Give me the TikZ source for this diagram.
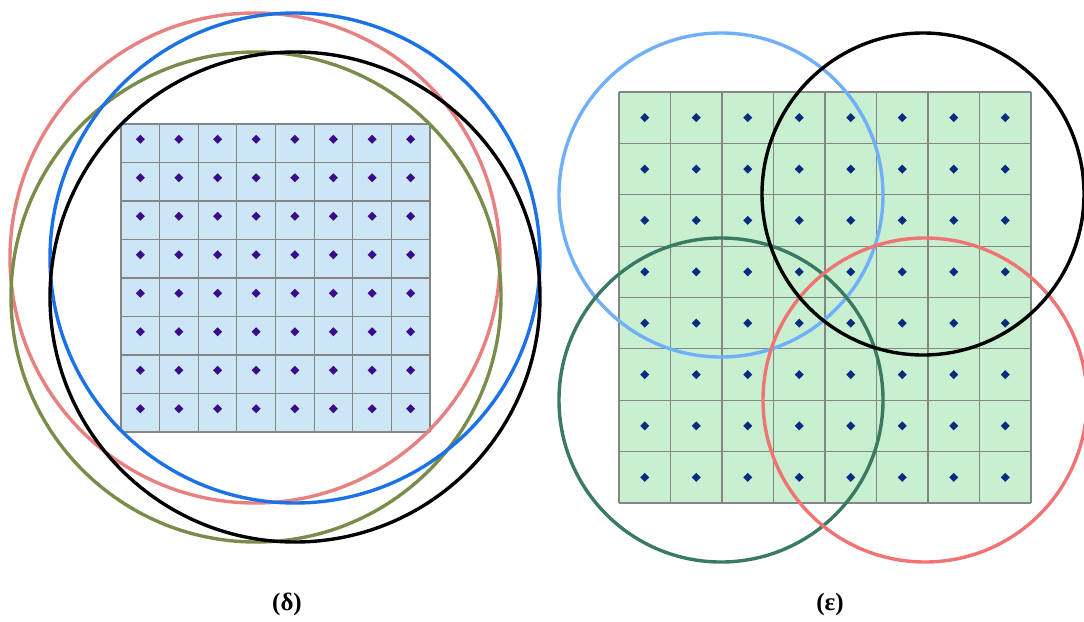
\documentclass[tikz,border=0pt]{standalone}
\usepackage{fontspec}
\setmainfont{Liberation Serif}
\definecolor{gridL}{HTML}{CDE6F5}
\definecolor{gridR}{HTML}{C8F0D0}
\definecolor{lineG}{HTML}{858585}
\definecolor{dotL}{HTML}{3A0C8C}
\definecolor{dotR}{HTML}{0A2C80}
\definecolor{cPink}{HTML}{E88080}
\definecolor{cBlue}{HTML}{1A72E6}
\definecolor{cOlive}{HTML}{7A8C4A}
\definecolor{cLBlue}{HTML}{70B0FA}
\definecolor{cDGreen}{HTML}{3A7A62}
\definecolor{cRed}{HTML}{F07474}
\tikzset{
  ring/.style={line width=3.4pt},
  cellline/.style={draw=lineG, line width=1.2pt},
  lbl/.style={font=\bfseries\fontsize{25}{30}\selectfont, inner sep=0pt}
}
\begin{document}
\begin{tikzpicture}[x=1pt,y=-1pt]
\useasboundingbox (0,0) rectangle (1084,621);
% left grid
\fill[gridL] (121,124) rectangle (430,432);
\foreach \i in {0,...,8} {
  \draw[cellline] ({121+\i*38.625},124) -- ({121+\i*38.625},432);
  \draw[cellline] (121,{124+\i*38.5}) -- (430,{124+\i*38.5});
}
\foreach \i in {0,...,7} \foreach \j in {0,...,7} {
  \fill[dotL] ({140.3+\i*38.625},{139.25+\j*38.5}) +(-4.5,0) -- +(0,-4.5) -- +(4.5,0) -- +(0,4.5) -- cycle;
}
% left circles
\draw[ring, cPink] (255,258) circle (245);
\draw[ring, cOlive] (256,297) circle (245);
\draw[ring, cBlue] (295,258) circle (245);
\draw[ring, black] (295,297) circle (245);
% right grid
\fill[gridR] (619,92) rectangle (1031,503);
\foreach \i in {0,...,8} {
  \draw[cellline] ({619+\i*51.5},92) -- ({619+\i*51.5},503);
  \draw[cellline] (619,{92+\i*51.375}) -- (1031,{92+\i*51.375});
}
\foreach \i in {0,...,7} \foreach \j in {0,...,7} {
  \fill[dotR] ({644.75+\i*51.5},{117.7+\j*51.375}) +(-4.5,0) -- +(0,-4.5) -- +(4.5,0) -- +(0,4.5) -- cycle;
}
% right circles
\draw[ring, cLBlue] (721,195) circle (162);
\draw[ring, cDGreen] (721,400) circle (162);
\draw[ring, cRed] (925,400) circle (162);
\draw[ring, black] (923,194) circle (161);
% labels
\node[lbl] (d) at (287,604) {(δ)};
\node[lbl] (e) at (830,604) {(ε)};
\end{tikzpicture}
\end{document}
